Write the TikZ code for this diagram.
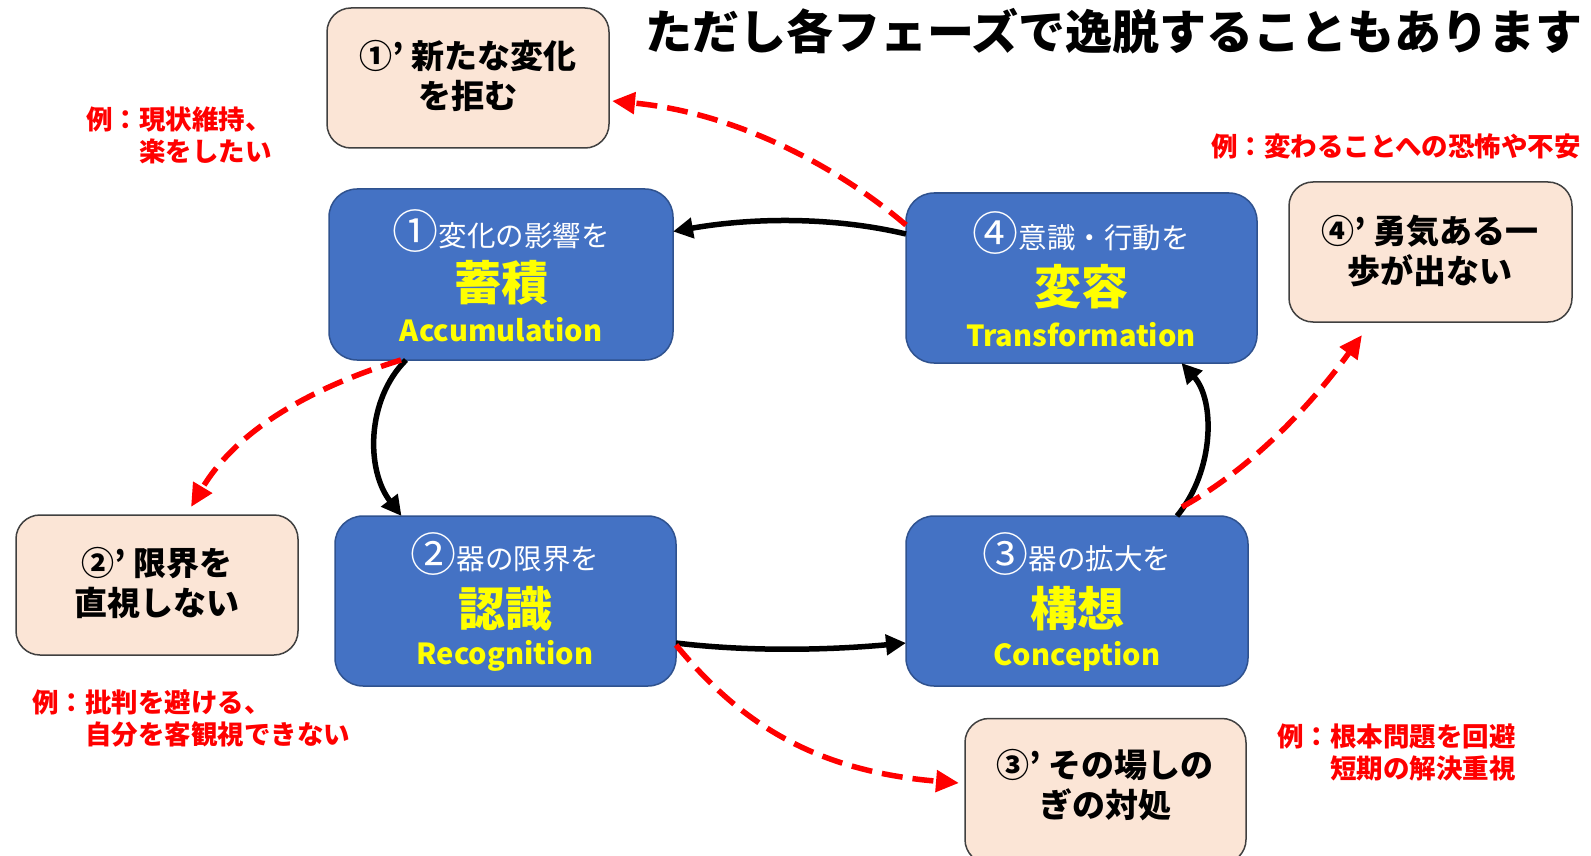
\documentclass[tikz,border=0pt]{standalone}
\usepackage{fontspec}
\setmainfont{Noto Sans CJK JP}
\usetikzlibrary{arrows.meta}
\definecolor{bluefill}{HTML}{4472C4}
\definecolor{blueline}{HTML}{2F528F}
\definecolor{pinkfill}{HTML}{FBE5D6}
\definecolor{pinkline}{HTML}{404040}
\definecolor{redc}{HTML}{FF0000}
\definecolor{yellowc}{HTML}{FFFF00}
\newcommand{\fs}[1]{\fontsize{#1}{#1}\selectfont}
\newcommand{\cnum}[1]{\raisebox{-2pt}{\fs{46}#1}}
\begin{document}
\begin{tikzpicture}[x=1pt,y=-1pt,
  bluebox/.style={draw=blueline,fill=bluefill,line width=1.5pt,rounded corners=28pt,inner sep=0pt,outer sep=0pt},
  pinkbox/.style={draw=pinkline,fill=pinkfill,line width=1.5pt,rounded corners=24pt,inner sep=0pt,outer sep=0pt},
  pinktext/.style={inner sep=0pt,align=center,font=\fontsize{33}{40.5}\selectfont\bfseries,text=black},
  line1/.style={inner sep=0pt,text=white,font=\fs{28.5}},
  line2/.style={inner sep=0pt,text=yellowc,font=\fs{47}\bfseries},
  line3/.style={inner sep=0pt,text=yellowc,font=\fs{29}\bfseries},
  redtext/.style={inner sep=0pt,align=left,text=redc,font=\fontsize{26.5}{31.5}\selectfont\bfseries},
  blk/.style={line width=5.5pt,draw=black,-{Triangle[length=20pt,width=20pt]}},
  reddash/.style={line width=5.5pt,draw=redc,dash pattern=on 21pt off 10pt,-{Triangle[length=23pt,width=21pt]}}
]
\useasboundingbox (0,0) rectangle (1591,856);
\clip (0,0) rectangle (1591,856);
\fill[white] (0,0) rectangle (1591,856);

% title
\node[inner sep=0pt,font=\fs{47}\bfseries] (title) at (1114,31) {ただし各フェーズで逸脱することもあります};

% blue boxes
\node[bluebox,minimum width=344pt,minimum height=171pt] (b1) at (501,274.5) {};
\node[bluebox,minimum width=351pt,minimum height=170pt] (b4) at (1081.5,278) {};
\node[bluebox,minimum width=341pt,minimum height=170pt] (b2) at (505.5,601) {};
\node[bluebox,minimum width=342pt,minimum height=170pt] (b3) at (1077,601) {};

\node[line1] (b1a) at (501,231) {\cnum{①}変化の影響を};
\node[line2] (b1b) at (501,283) {蓄積};
\node[line3] (b1c) at (501,330) {Accumulation};

\node[line1] (b4a) at (1081,233) {\cnum{④}意識・行動を};
\node[line2] (b4b) at (1081,287) {変容};
\node[line3] (b4c) at (1081,335) {Transformation};

\node[line1] (b2a) at (505,554) {\cnum{②}器の限界を};
\node[line2] (b2b) at (505,609) {認識};
\node[line3] (b2c) at (505,656) {Recognition};

\node[line1] (b3a) at (1077,554) {\cnum{③}器の拡大を};
\node[line2] (b3b) at (1077,609) {構想};
\node[line3] (b3c) at (1077,656) {Conception};

% pink boxes
\node[pinkbox,minimum width=282pt,minimum height=140pt] (p1) at (468,78) {};
\node[pinktext] (p1t) at (468,76) {①’ 新たな変化\\を拒む};
\node[pinkbox,minimum width=283pt,minimum height=140pt] (p4) at (1430.5,252) {};
\node[pinktext] (p4t) at (1430,251) {④’ 勇気ある一\\歩が出ない};
\node[pinkbox,minimum width=282pt,minimum height=140pt] (p2) at (157,585) {};
\node[pinktext] (p2t) at (157,583) {②’ 限界を\\直視しない};
\node[pinkbox,minimum width=281pt,minimum height=145pt] (p3) at (1105.5,791) {};
\node[pinktext] (p3t) at (1105,785) {③’ その場しの\\ぎの対処};

% red notes
\node[redtext,anchor=north west] (r1) at (86,107) {例：現状維持、\\\phantom{例：}楽をしたい};
\node[redtext,anchor=east] (r4) at (1581,146) {例：変わることへの恐怖や不安};
\node[redtext,anchor=north west] (r2) at (32,690) {例：批判を避ける、\\\phantom{例：}自分を客観視できない};
\node[redtext,anchor=north east] (r3) at (1516,724) {例：根本問題を回避\\\phantom{例：}短期の解決重視};

% black cycle arrows
\draw[blk] ([yshift=44pt]b4.west) .. controls (830,216) and (750,218) .. ([yshift=43pt]b1.east);
\draw[blk] ([xshift=-95pt]b1.south) .. controls (366,400) and (366,470) .. ([xshift=-104pt]b2.north);
\draw[blk] ([yshift=-42pt]b2.east) .. controls (750,652) and (830,650) .. ([yshift=-42pt]b3.west);
\draw[blk] ([xshift=100pt]b3.north) .. controls (1215,470) and (1215,400) .. ([xshift=100pt]b4.south);

% red dashed deviation arrows
\draw[reddash] ([yshift=53pt]b4.west) .. controls (832,162) and (730,112) .. ([xshift=3pt,yshift=-23pt]p1.east);
\draw[reddash] ([xshift=-100pt]b1.south) .. controls (320,385) and (240,425) .. ([xshift=34pt,yshift=8pt]p2.north);
\draw[reddash] ([yshift=-44pt]b2.east) .. controls (730,710) and (800,770) .. ([xshift=-6pt,yshift=8pt]p3.west);
\draw[reddash] ([xshift=105pt,yshift=9pt]b3.north) .. controls (1240,475) and (1300,420) .. ([xshift=-68.5pt,yshift=-13pt]p4.south);
\end{tikzpicture}
\end{document}
